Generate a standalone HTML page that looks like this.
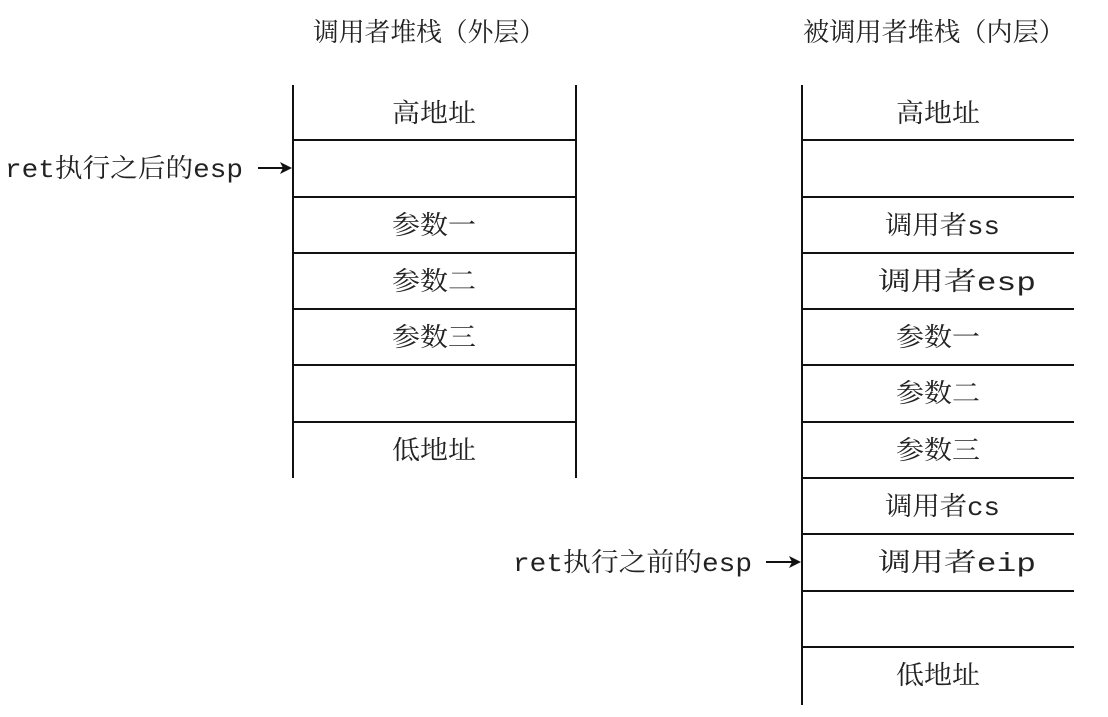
<!DOCTYPE html>
<html><head><meta charset="utf-8"><style>
html,body{margin:0;padding:0;background:#fff;}
svg text{font-family:"Liberation Mono","Noto Serif CJK SC",serif;font-size:26px;fill:#222;}
</style></head><body>
<svg width="1108" height="712" viewBox="0 0 1108 712" xmlns="http://www.w3.org/2000/svg">
<g stroke="#111" stroke-width="2" fill="none">
<line x1="293" y1="85" x2="293" y2="478"/>
<line x1="576" y1="85" x2="576" y2="478"/>
<line x1="293" y1="140" x2="576" y2="140"/>
<line x1="293" y1="197" x2="576" y2="197"/>
<line x1="293" y1="253" x2="576" y2="253"/>
<line x1="293" y1="309" x2="576" y2="309"/>
<line x1="293" y1="365" x2="576" y2="365"/>
<line x1="293" y1="422" x2="576" y2="422"/>
<line x1="802" y1="85" x2="802" y2="705"/>
<line x1="802" y1="140" x2="1074" y2="140"/>
<line x1="802" y1="197" x2="1074" y2="197"/>
<line x1="802" y1="253" x2="1074" y2="253"/>
<line x1="802" y1="309" x2="1074" y2="309"/>
<line x1="802" y1="365" x2="1074" y2="365"/>
<line x1="802" y1="422" x2="1074" y2="422"/>
<line x1="802" y1="478" x2="1074" y2="478"/>
<line x1="802" y1="534" x2="1074" y2="534"/>
<line x1="802" y1="591" x2="1074" y2="591"/>
<line x1="802" y1="647" x2="1074" y2="647"/>
<line x1="258" y1="168" x2="290" y2="168"/>
<line x1="766" y1="562" x2="799" y2="562"/>
</g>
<g fill="#111">
<polygon points="292,168 280,162 283,168 280,174"/>
<polygon points="801,562 789,556 792,562 789,568"/>
</g>
<g lengthAdjust="spacingAndGlyphs">
<text x="313" y="41" textLength="232" lengthAdjust="spacingAndGlyphs">调用者堆栈（外层）</text>
<text x="803" y="41" textLength="262" lengthAdjust="spacingAndGlyphs">被调用者堆栈（内层）</text>
<text x="392" y="122" textLength="84" lengthAdjust="spacingAndGlyphs">高地址</text>
<text x="392" y="234" textLength="84" lengthAdjust="spacingAndGlyphs">参数一</text>
<text x="392" y="290" textLength="84" lengthAdjust="spacingAndGlyphs">参数二</text>
<text x="392" y="346" textLength="84" lengthAdjust="spacingAndGlyphs">参数三</text>
<text x="392" y="459" textLength="84" lengthAdjust="spacingAndGlyphs">低地址</text>
<text x="896" y="122" textLength="84" lengthAdjust="spacingAndGlyphs">高地址</text>
<text x="885" y="234" textLength="115" lengthAdjust="spacingAndGlyphs">调用者ss</text>
<text x="878" y="290" textLength="158" lengthAdjust="spacingAndGlyphs">调用者esp</text>
<text x="896" y="346" textLength="84" lengthAdjust="spacingAndGlyphs">参数一</text>
<text x="896" y="402" textLength="84" lengthAdjust="spacingAndGlyphs">参数二</text>
<text x="896" y="459" textLength="84" lengthAdjust="spacingAndGlyphs">参数三</text>
<text x="885" y="515" textLength="115" lengthAdjust="spacingAndGlyphs">调用者cs</text>
<text x="878" y="571" textLength="158" lengthAdjust="spacingAndGlyphs">调用者eip</text>
<text x="896" y="684" textLength="84" lengthAdjust="spacingAndGlyphs">低地址</text>
<text x="5" y="177" textLength="238" lengthAdjust="spacingAndGlyphs">ret执行之后的esp</text>
<text x="513" y="571" textLength="239" lengthAdjust="spacingAndGlyphs">ret执行之前的esp</text>
</g>
</svg>
</body></html>
